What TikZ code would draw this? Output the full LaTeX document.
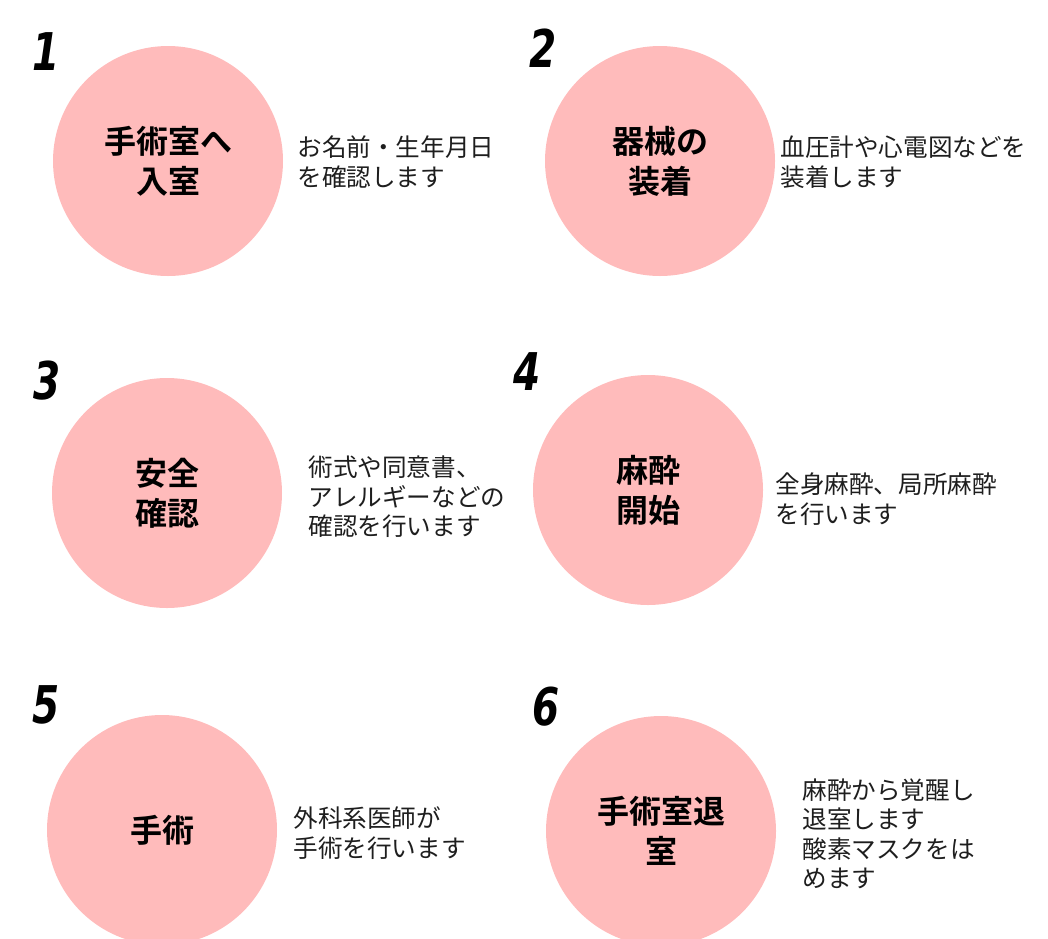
\documentclass[tikz,border=0pt]{standalone}
\usepackage{fontspec}
\newfontfamily\titlefont{Noto Sans CJK JP}[BoldFont=* Bold]
\newfontfamily\descfont{Noto Sans CJK JP}
\newfontfamily\numfont{DejaVu Sans}
\definecolor{pinkfill}{RGB}{255,187,187}
\definecolor{desccol}{RGB}{30,30,30}
\tikzset{
  stepcircle/.style={circle, fill=pinkfill, minimum size=230pt, inner sep=0pt},
  steptitle/.style={align=center, font=\titlefont\bfseries\fontsize{32}{40}\selectfont, text=black},
  stepdesc/.style={anchor=west, align=left, font=\descfont\fontsize{24.6}{29.5}\selectfont, text=desccol},
  stepnum/.style={font=\numfont\bfseries\itshape\fontsize{52}{52}\selectfont, xscale=0.75, text=black}
}
\begin{document}
\begin{tikzpicture}[x=1pt,y=-1pt]
\useasboundingbox (0,0) rectangle (1048,938);
% step 1
\node[stepnum] (n1) at (46,52) {1};
\node[stepcircle] (c1) at (168,161) {};
\node[steptitle] (t1) at (c1) {手術室へ\\入室};
\node[stepdesc] (d1) at (294,162) {お名前・生年月日\\を確認します};
% step 2
\node[stepnum] (n2) at (543,48) {2};
\node[stepcircle] (c2) at (660,161) {};
\node[steptitle] (t2) at (c2) {器械の\\装着};
\node[stepdesc] (d2) at (777,162) {血圧計や心電図などを\\装着します};
% step 3
\node[stepnum] (n3) at (47,381) {3};
\node[stepcircle] (c3) at (167,493) {};
\node[steptitle] (t3) at (c3) {安全\\確認};
\node[stepdesc] (d3) at (305,497) {術式や同意書、\\アレルギーなどの\\確認を行います};
% step 4
\node[stepnum] (n4) at (527,372) {4};
\node[stepcircle] (c4) at (648,490) {};
\node[steptitle] (t4) at (c4) {麻酔\\開始};
\node[stepdesc] (d4) at (772,499) {全身麻酔、局所麻酔\\を行います};
% step 5
\node[stepnum] (n5) at (46,705) {5};
\node[stepcircle] (c5) at (162,830) {};
\node[steptitle] (t5) at (c5) {手術};
\node[stepdesc] (d5) at (290,833) {外科系医師が\\手術を行います};
% step 6
\node[stepnum] (n6) at (546,707) {6};
\node[stepcircle] (c6) at (661,831) {};
\node[steptitle] (t6) at (c6) {手術室退\\室};
\node[stepdesc] (d6) at (799,834) {麻酔から覚醒し\\退室します\\酸素マスクをは\\めます};
\end{tikzpicture}
\end{document}
